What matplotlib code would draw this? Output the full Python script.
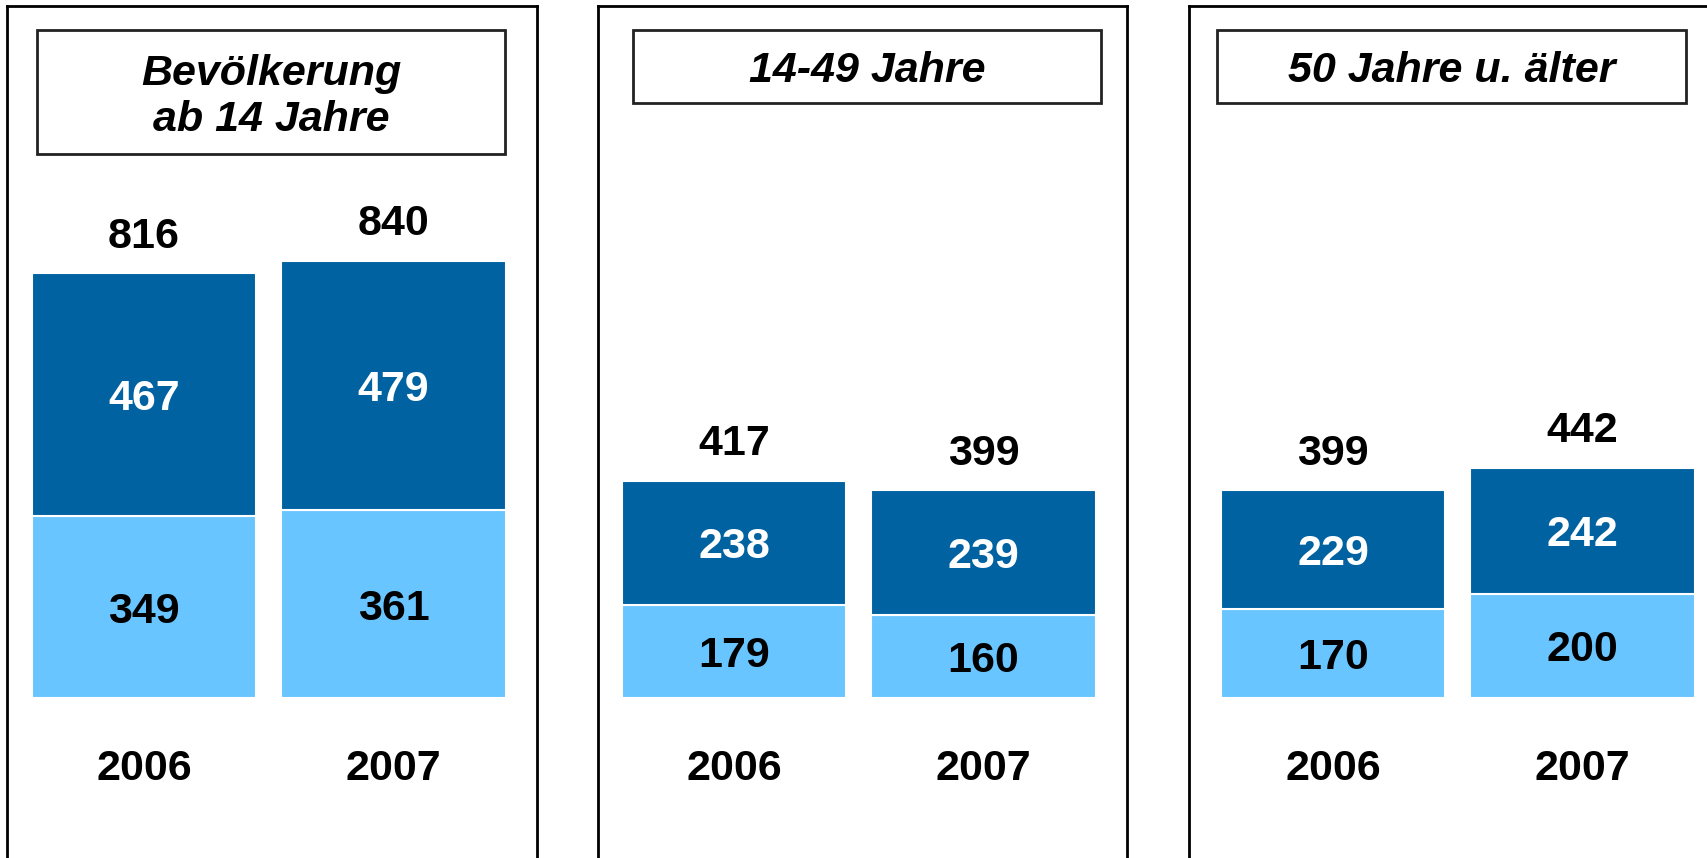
import matplotlib.pyplot as plt
from matplotlib.patches import Rectangle

plt.rcParams['font.family'] = ['Liberation Sans', 'DejaVu Sans']

# data
titles = ["Bevölkerung\nab 14 Jahre", "14-49 Jahre", "50 Jahre u. älter"]
years = ["2006", "2007"]
lower = [[349, 361], [179, 160], [170, 200]]
upper = [[467, 479], [238, 239], [229, 242]]
totals = [[816, 840], [417, 399], [399, 442]]

dark = "#0062A0"
light = "#69C5FF"

# layout in pixels (full size figure)
W, H = 1708, 858
frame_x = [(7, 537), (598, 1127), (1189, 1708)]
frame_top = 6
first_bar = [144, 734, 1333]
step = 249.5
box_x = [(37, 505), (633, 1101), (1217, 1686)]
box_y = [(30, 154), (30, 103), (30, 103)]
baseline = 698
ppu = 0.5207
year_y = 764
fs = 31

fig = plt.figure(figsize=(W / 100, H / 100), dpi=100)

for i in range(3):
    x0, x1 = frame_x[i]
    ax = fig.add_axes([x0 / W, 0, (x1 - x0) / W, (H - frame_top) / H])
    ax.set_xlim((x0 - first_bar[i]) / step, (x1 - first_bar[i]) / step)
    ymin = -(H - baseline) / ppu
    ax.set_ylim(ymin, ymin + (H - frame_top) / ppu)
    ax.set_xticks([])
    ax.set_yticks([])
    ax.spines['bottom'].set_visible(False)
    if i == 2:
        ax.spines['right'].set_visible(False)
    for s in ['left', 'right', 'top']:
        ax.spines[s].set_linewidth(2)

    xs = [0, 1]
    ax.bar(xs, lower[i], width=0.9, color=light, edgecolor='white', linewidth=1.5)
    ax.bar(xs, upper[i], bottom=lower[i], width=0.9, color=dark, edgecolor='white', linewidth=1.5)

    for j in range(2):
        lo, up = lower[i][j], upper[i][j]
        ax.text(xs[j], lo / 2, str(lo), ha='center', va='center_baseline',
                fontsize=fs, fontweight='bold', color='black')
        ax.text(xs[j], lo + up / 2, str(up), ha='center', va='center_baseline',
                fontsize=fs, fontweight='bold', color='white')
        ax.annotate(str(totals[i][j]), (xs[j], lo + up), xytext=(0, 41),
                    textcoords='offset pixels', ha='center', va='center_baseline',
                    fontsize=fs, fontweight='bold')
        ax.text(xs[j], -(year_y - baseline) / ppu, years[j], ha='center', va='center_baseline',
                fontsize=fs, fontweight='bold')

    bx0, bx1 = box_x[i]
    by0, by1 = box_y[i]
    fig.add_artist(Rectangle((bx0 / W, 1 - by1 / H), (bx1 - bx0) / W, (by1 - by0) / H,
                             transform=fig.transFigure, fill=False, lw=2, ec='#222222'))
    fig.text((bx0 + bx1) / 2 / W, 1 - ((by0 + by1) / 2 + 5) / H, titles[i], ha='center', va='center',
             fontsize=fs, fontweight='bold', fontstyle='italic', linespacing=1.22)

fig.savefig("out.png", dpi=100)
